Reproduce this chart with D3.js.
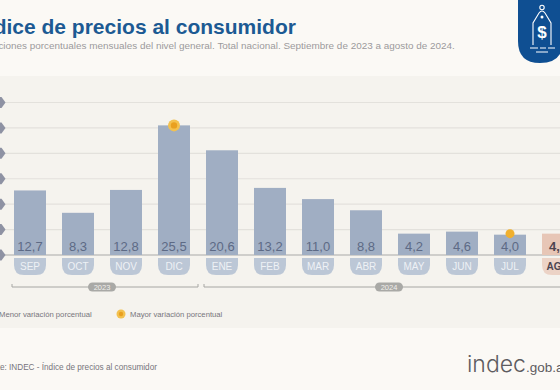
<!DOCTYPE html>
<html>
<head>
<meta charset="utf-8">
<script src="https://cdn.jsdelivr.net/npm/d3@7"></script>
<style>
  html, body { margin: 0; padding: 0; background: #fbf9f5; overflow: hidden; }
  text { font-family: "Liberation Sans", Arial, sans-serif; }
</style>
</head>
<body>
<div id="container"></div>
<script>
/* CONSTANTS AND GLOBALS */
const width = 560,
  height = 390,
  baseline = 255

/* DATA */
const months = ["SEP", "OCT", "NOV", "DIC", "ENE", "FEB", "MAR", "ABR", "MAY", "JUN", "JUL", "AGO"]
const values = [12.7, 8.3, 12.8, 25.5, 20.6, 13.2, 11.0, 8.8, 4.2, 4.6, 4.0, 4.2]
const gridTicks = [0, 5, 10, 15, 20, 25, 30]
const yearGroups = [
  { year: "2023", first: "SEP", last: "DIC", pill: 102 },
  { year: "2024", first: "ENE", last: "AGO", pill: 389 }
]
const highest = "DIC"
const lowest = "JUL"
const current = "AGO"

const svg = d3.select("#container")
  .append("svg")
  .attr("width", width)
  .attr("height", height)
  .style("display", "block")

// paper background and the slightly darker chart band
svg.append("rect").attr("width", width).attr("height", height).attr("fill", "#fbf9f5")
svg.append("rect").attr("y", 76).attr("width", width).attr("height", 252).attr("fill", "#f5f3ee")

// + SCALES
const xScale = d3.scaleBand()
  .domain(months)
  .range([6, 582])
  .paddingInner(1 / 3)
  .paddingOuter(1 / 6)

const yScale = d3.scaleLinear()
  .domain([0, 30])
  .range([baseline, 102.5])

// + GRID
svg.selectAll("line.grid")
  .data(gridTicks)
  .join("line")
  .attr("class", "grid")
  .attr("x1", 0)
  .attr("x2", width)
  .attr("y1", d => yScale(d))
  .attr("y2", d => yScale(d))
  .attr("stroke", d => d === 0 ? "#a9a9a8" : "#e3e1dc")
  .attr("stroke-width", d => d === 0 ? 1 : 1.2)

// clipped markers on the left edge
svg.selectAll("path.tick-mark")
  .data(gridTicks)
  .join("path")
  .attr("class", "tick-mark")
  .attr("d", "M-6,0L-2,-5.5H1.5L5.5,0L1.5,5.5H-2Z")
  .attr("transform", d => `translate(0,${yScale(d)})`)
  .attr("fill", "#8e92a3")

// + BARS
svg.selectAll("rect.bar")
  .data(values)
  .join("rect")
  .attr("class", "bar")
  .attr("x", (d, i) => xScale(months[i]))
  .attr("y", d => yScale(d))
  .attr("width", xScale.bandwidth())
  .attr("height", d => baseline - yScale(d))
  .attr("fill", (d, i) => months[i] === current ? "#e7c6b6" : "#a0aec3")

// value labels
svg.selectAll("text.value")
  .data(values)
  .join("text")
  .attr("class", "value")
  .attr("x", (d, i) => xScale(months[i]) + xScale.bandwidth() / 2)
  .attr("y", baseline - 4)
  .attr("text-anchor", "middle")
  .attr("font-size", 13)
  .attr("font-weight", (d, i) => months[i] === current ? 700 : 400)
  .attr("fill", (d, i) => months[i] === current ? "#4d4550" : "#5d6a85")
  .text(d => d3.format(".1f")(d).replace(".", ","))

// month tabs with rounded bottom corners
const tabTop = baseline + 3,
  tabHeight = 17,
  tabRadius = 10

svg.selectAll("path.tab")
  .data(months)
  .join("path")
  .attr("class", "tab")
  .attr("d", d => {
    const x0 = xScale(d), x1 = x0 + xScale.bandwidth(), y1 = tabTop + tabHeight
    return `M${x0},${tabTop}H${x1}V${y1 - tabRadius}Q${x1},${y1} ${x1 - tabRadius},${y1}H${x0 + tabRadius}Q${x0},${y1} ${x0},${y1 - tabRadius}Z`
  })
  .attr("fill", d => d === current ? "#ecd3c6" : "#bcc7d6")

svg.selectAll("text.month")
  .data(months)
  .join("text")
  .attr("class", "month")
  .attr("x", d => xScale(d) + xScale.bandwidth() / 2)
  .attr("y", tabTop + 12)
  .attr("text-anchor", "middle")
  .attr("font-size", 10)
  .attr("font-weight", d => d === current ? 700 : 400)
  .attr("fill", d => d === current ? "#4d4550" : "#eef1f5")
  .text(d => d)

// highest / lowest markers
const markerColor = "#f0b02e"
const topMark = svg.append("g")
  .attr("transform", `translate(${xScale(highest) + xScale.bandwidth() / 2},${yScale(values[months.indexOf(highest)])})`)
topMark.append("circle").attr("r", 6).attr("fill", "#f3c14f")
topMark.append("circle").attr("r", 3.2).attr("fill", "#e9a020")

svg.append("circle")
  .attr("cx", xScale(lowest) + xScale.bandwidth() / 2)
  .attr("cy", yScale(values[months.indexOf(lowest)]) - 1)
  .attr("r", 4.5)
  .attr("fill", markerColor)

// year brackets
const bracketY = 287
yearGroups.forEach(g => {
  const x0 = xScale(g.first) - 2,
    x1 = xScale(g.last) + xScale.bandwidth() + 8
  svg.append("path")
    .attr("d", `M${x0},${bracketY - 3}V${bracketY}H${x1}V${bracketY - 3}`)
    .attr("fill", "none")
    .attr("stroke", "#a6a6a3")
    .attr("stroke-width", 1)
  svg.append("rect")
    .attr("x", g.pill - 14)
    .attr("y", bracketY - 4.5)
    .attr("width", 28)
    .attr("height", 9)
    .attr("rx", 4.5)
    .attr("fill", "#a9a9a6")
  svg.append("text")
    .attr("x", g.pill)
    .attr("y", bracketY + 3)
    .attr("text-anchor", "middle")
    .attr("font-size", 7.5)
    .attr("fill", "#f0efeb")
    .text(g.year)
})

// + LEGEND
svg.append("text")
  .attr("x", -1).attr("y", 317)
  .attr("font-size", 7.7)
  .attr("fill", "#77757c")
  .text("Menor variación porcentual")
svg.append("circle").attr("cx", 121).attr("cy", 314).attr("r", 4.5).attr("fill", "#f3c14f")
svg.append("circle").attr("cx", 121).attr("cy", 314).attr("r", 2.2).attr("fill", "#e9a020")
svg.append("text")
  .attr("x", 130).attr("y", 317)
  .attr("font-size", 7.7)
  .attr("fill", "#77757c")
  .text("Mayor variación porcentual")

// + TITLES (the picture is cropped on the left, so the text starts off-canvas)
svg.append("text")
  .attr("x", -25).attr("y", 33.5)
  .attr("font-size", 21)
  .attr("font-weight", 700)
  .attr("fill", "#1c5a93")
  .text("Índice de precios al consumidor")

svg.append("text")
  .attr("x", -24).attr("y", 49)
  .attr("font-size", 9.92)
  .attr("fill", "#9b9a9c")
  .text("Variaciones porcentuales mensuales del nivel general. Total nacional. Septiembre de 2023 a agosto de 2024.")

svg.append("text")
  .attr("x", -21).attr("y", 370)
  .attr("font-size", 8.2)
  .attr("fill", "#77757c")
  .text("Fuente: INDEC - Índice de precios al consumidor")

// footer logo text
const logo = svg.append("text").attr("x", 467).attr("y", 372).attr("fill", "#5d5c5f")
logo.append("tspan").attr("font-size", 23).attr("font-family", "Inter").attr("font-weight", 300).text("indec")
logo.append("tspan").attr("font-size", 13.5).text(".gob.ar")

// badge
const badge = svg.append("g")
badge.append("path")
  .attr("d", "M518,0H563V41Q563,63 540,63Q518,63 518,41Z")
  .attr("fill", "#0f4f92")
const icon = badge.append("g").attr("fill", "none").attr("stroke", "#fff").attr("stroke-width", 1.1)
icon.append("path").attr("d", "M533,45V23L539,13Q542,9 545,13L551,23V45")
icon.append("circle").attr("cx", 542).attr("cy", 7.5).attr("r", 2.2)
badge.append("circle").attr("cx", 542).attr("cy", 17).attr("r", 1.5).attr("fill", "#fff")
badge.append("text")
  .attr("x", 542).attr("y", 38)
  .attr("text-anchor", "middle")
  .attr("font-size", 17)
  .attr("font-weight", 700)
  .attr("fill", "#fff")
  .text("$")
icon.append("path").attr("d", "M530,48H538M540,48H546M548,48H555M536,52H548")
</script>
</body>
</html>
